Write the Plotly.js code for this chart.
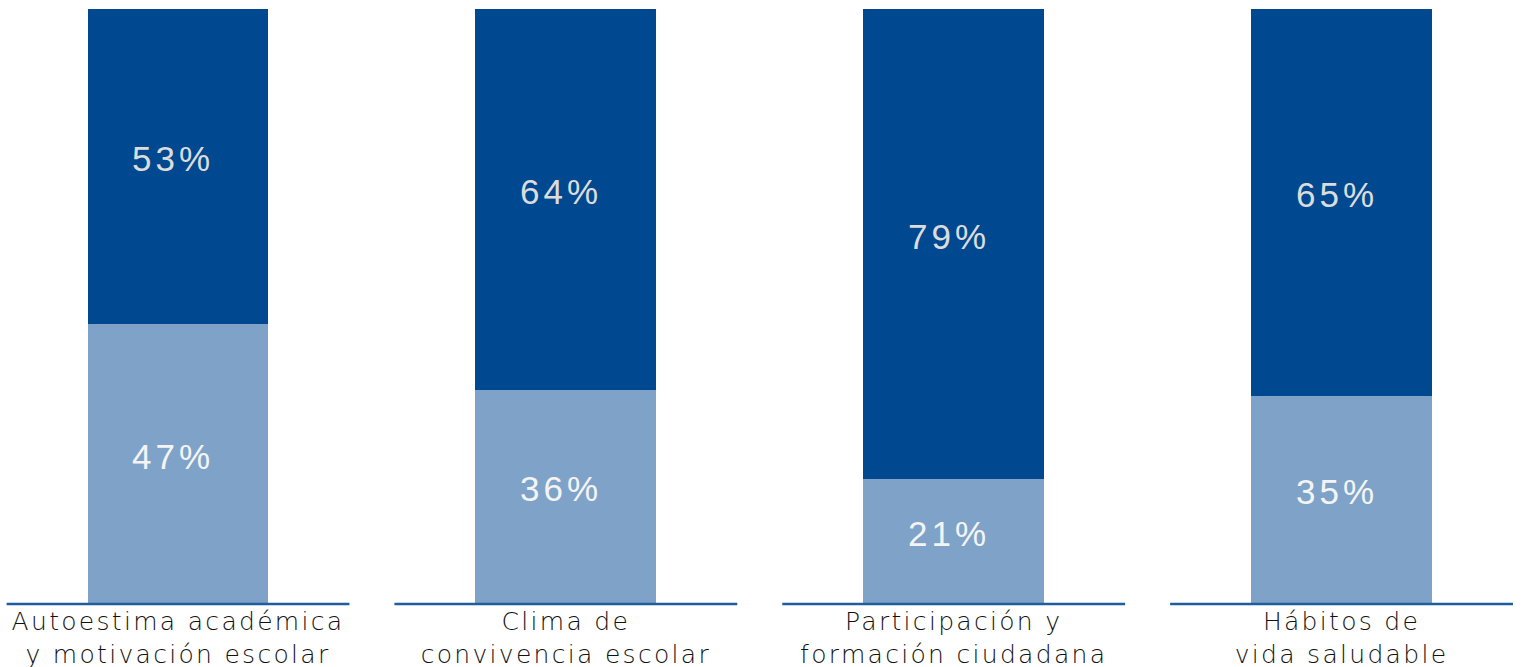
<!DOCTYPE html>
<html><head><meta charset="utf-8">
<script src="https://cdn.plot.ly/plotly-3.0.1.min.js"></script>
<style>
html,body{margin:0;padding:0;background:#fff;}
#chart{width:1537px;height:667px;}
#chart .xtick text{letter-spacing:2.3px;}
#chart .annotation-text{letter-spacing:4px;}
</style>
</head><body><div id="chart"></div>
<script>
const categories = ["Autoestima académica<br>y motivación escolar", "Clima de<br>convivencia escolar", "Participación y<br>formación ciudadana", "Hábitos de<br>vida saludable"];
const bottomValues = [47, 36, 21, 35];
const topValues = [53, 64, 79, 65];
const idx = [0, 1, 2, 3];

const pctFamily = "Liberation Sans, Arial, sans-serif";
const traces = [
  {type: "bar", x: idx, y: bottomValues, marker: {color: "#7fa3c8"}, width: 0.466, hoverinfo: "none"},
  {type: "bar", x: idx, y: topValues, marker: {color: "#004990"}, width: 0.466, hoverinfo: "none"}
];
const annotations = [];
idx.forEach(i => {
  annotations.push({x: i, y: bottomValues[i] / 2, xref: "x", yref: "y", text: bottomValues[i] + "%",
    showarrow: false, yshift: 8, xshift: -5, font: {family: pctFamily, size: 35, color: "#f4f4f4"}});
  annotations.push({x: i, y: bottomValues[i] + topValues[i] / 2, xref: "x", yref: "y", text: topValues[i] + "%",
    showarrow: false, yshift: 8, xshift: -5, font: {family: pctFamily, size: 35, color: "#dcdcdc"}});
});
const shapes = idx.map(i => ({type: "line", xref: "x", yref: "paper", x0: i - 0.442, x1: i + 0.442, y0: 0, y1: 0,
  line: {color: "#1f5d9e", width: 2.5}}));
const layout = {
  width: 1537, height: 667, barmode: "stack", showlegend: false,
  margin: {l: 0, r: 0, t: 9, b: 63},
  paper_bgcolor: "#fff", plot_bgcolor: "#fff",
  xaxis: {range: [-0.459, 3.504], tickvals: idx, ticktext: categories, showgrid: false, zeroline: false,
    showline: false, ticks: "", tickfont: {family: "DejaVu Sans, sans-serif", size: 25, color: "#111", weight: 300}},
  yaxis: {range: [0, 100], visible: false, showgrid: false, zeroline: false},
  shapes: shapes, annotations: annotations
};
Plotly.newPlot("chart", traces, layout, {displayModeBar: false, staticPlot: true});
</script></body></html>
